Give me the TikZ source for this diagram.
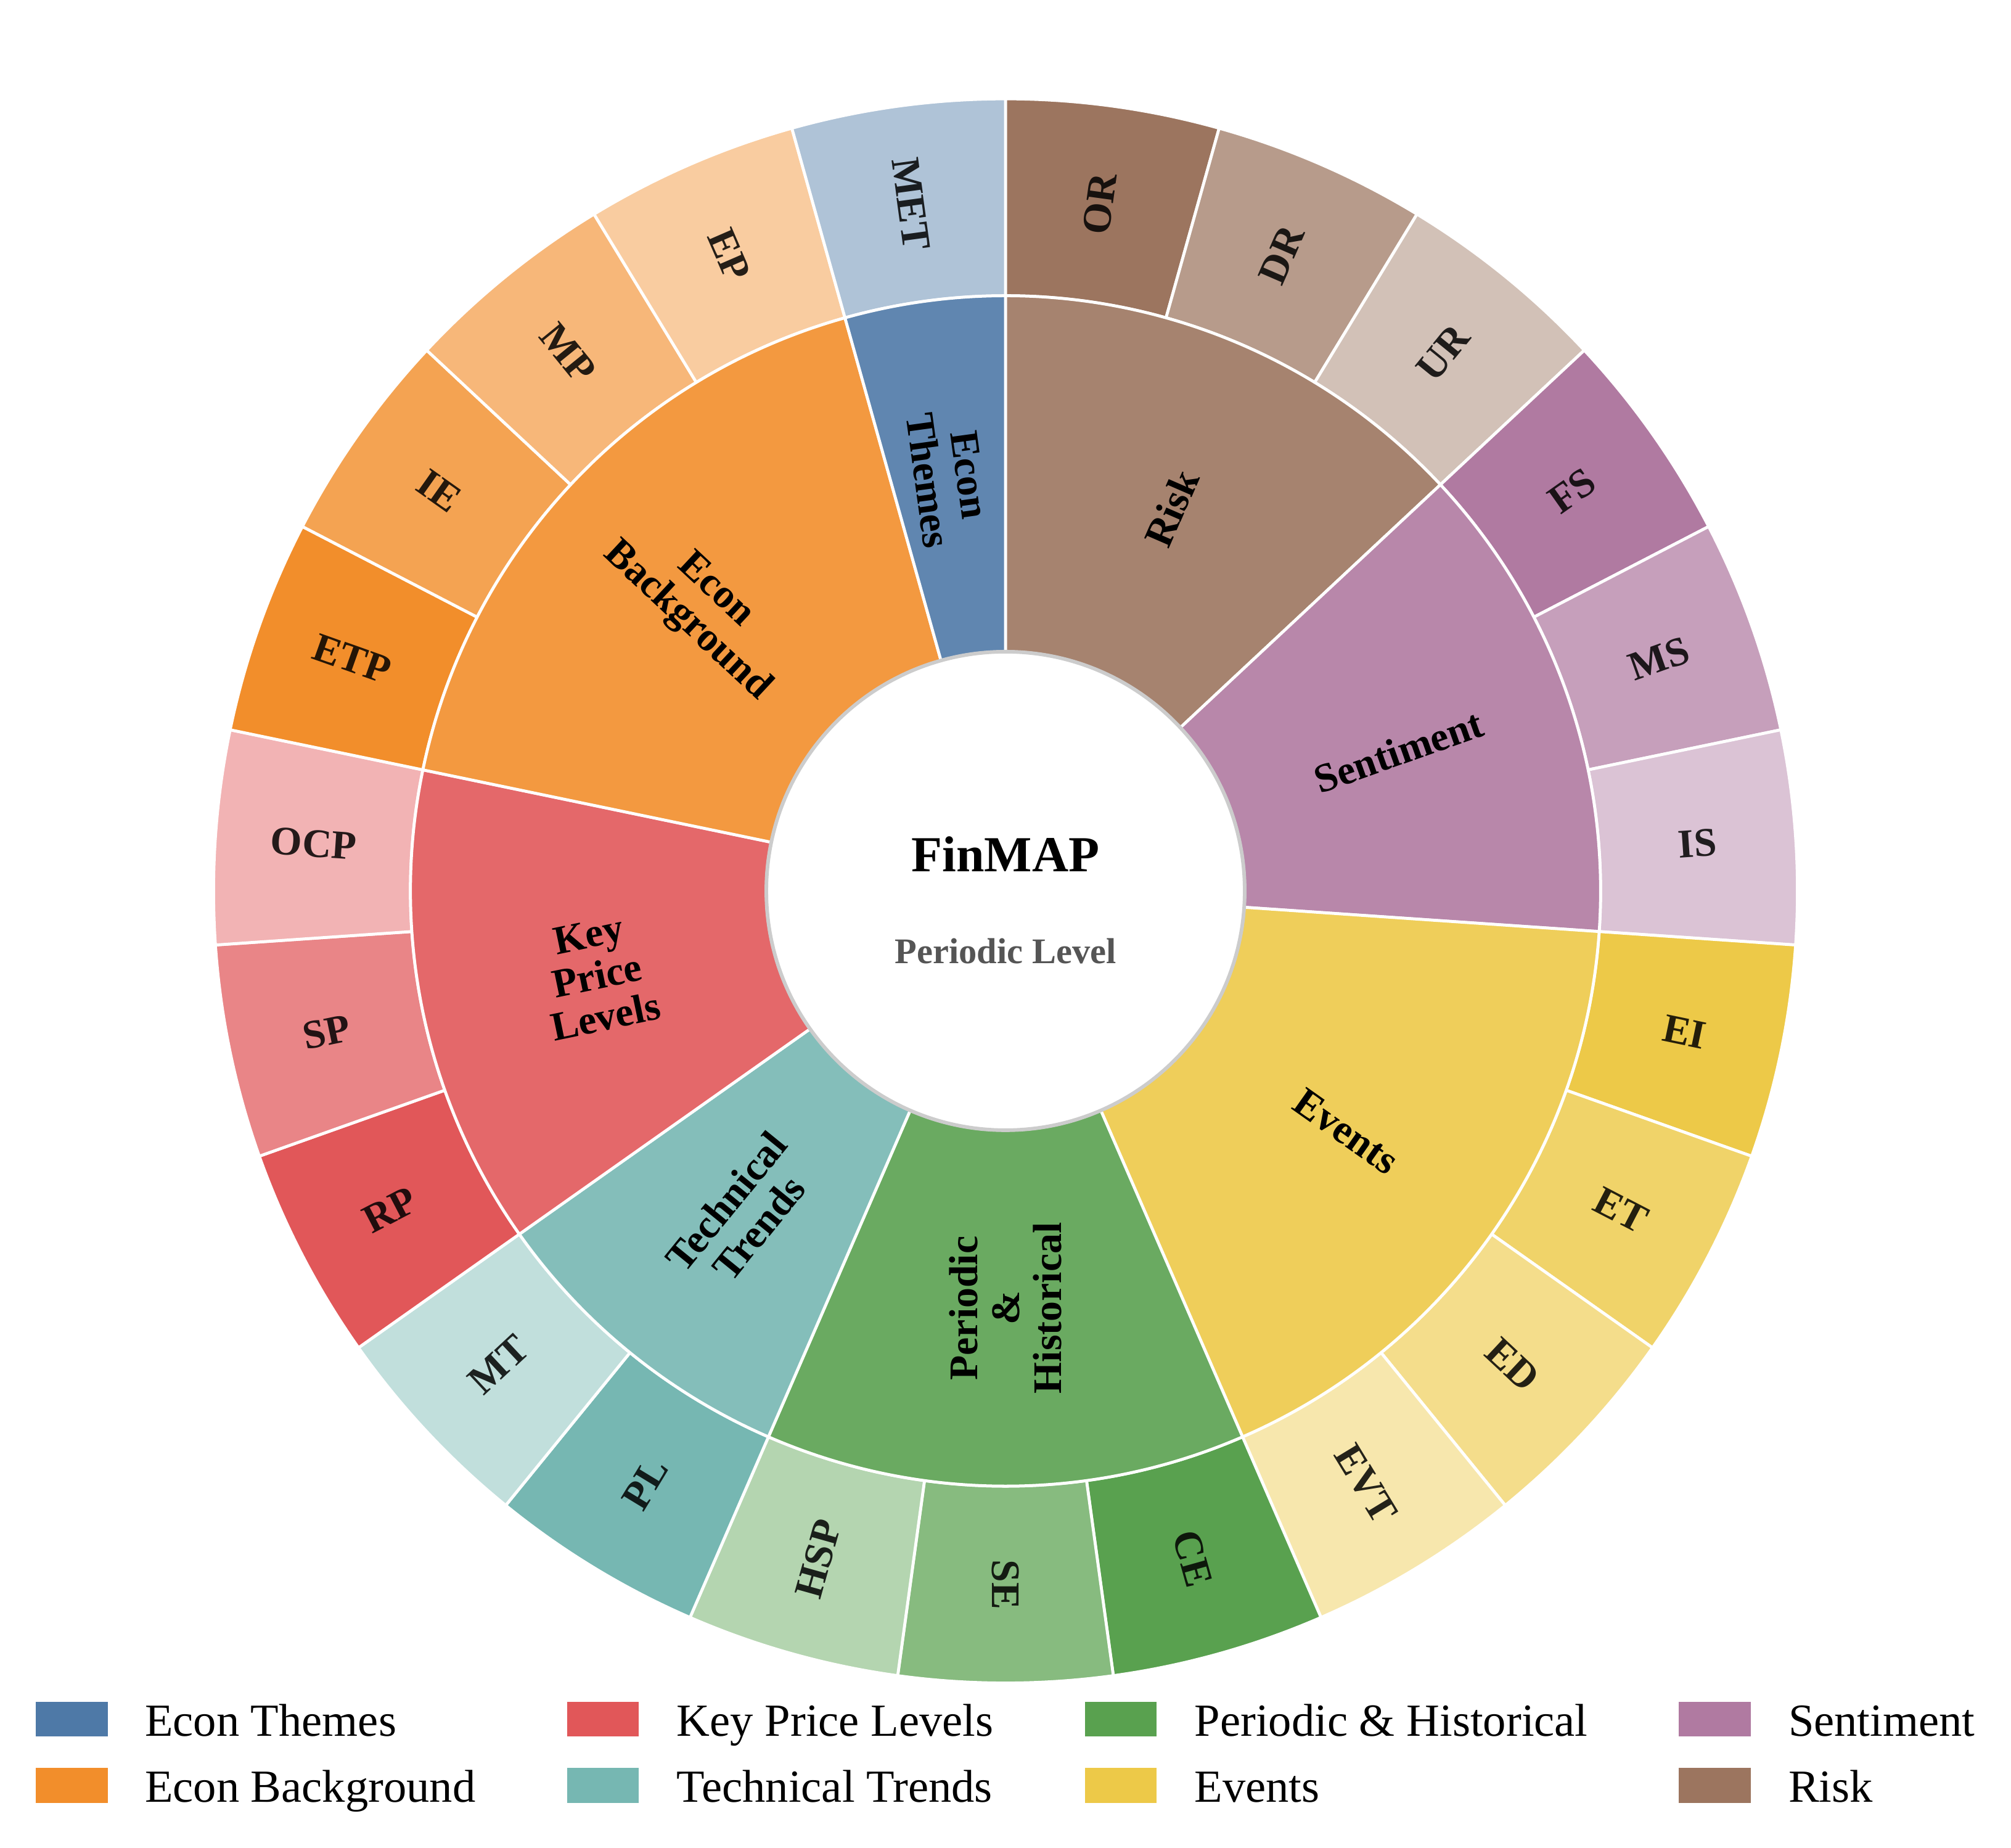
\documentclass[tikz,border=0pt]{standalone}
\usepackage{fontspec}
\setmainfont{Liberation Serif}
\definecolor{cET}{HTML}{4E79A7}
\definecolor{cEB}{HTML}{F28E2B}
\definecolor{cKP}{HTML}{E15759}
\definecolor{cTT}{HTML}{76B7B2}
\definecolor{cPH}{HTML}{59A14F}
\definecolor{cEV}{HTML}{EDC948}
\definecolor{cSE}{HTML}{B07AA1}
\definecolor{cRI}{HTML}{9C755F}
\definecolor{holegray}{HTML}{CCCCCC}
\definecolor{subgray}{HTML}{555555}
\tikzset{
  wedge/.style={draw=white, line width=0.65pt},
  outlbl/.style={inner sep=0pt, font=\bfseries\fontsize{9}{9.2}\selectfont, text=black, text opacity=0.85},
  inlbl/.style={inner sep=0pt, align=center, font=\bfseries\fontsize{9}{9.3}\selectfont, text=black},
  legbox/.style={minimum width=0.56cm, minimum height=0.27cm, inner sep=0pt, draw=none},
  legtxt/.style={anchor=base west, inner sep=0pt, font=\fontsize{10.2}{12}\selectfont}
}
\begin{document}
\begin{tikzpicture}
\useasboundingbox (0,0) rectangle (15.68,14.4013);
\begin{scope}[shift={(7.84,7.456)}]
% outer ring
\foreach \k/\c/\p/\t in {0/cRI/100/OR,1/cRI/72.5/DR,2/cRI/45/UR,
  3/cSE/100/FS,4/cSE/72.5/MS,5/cSE/45/IS,
  6/cEV/100/EI,7/cEV/81.7/ET,8/cEV/63.3/ED,9/cEV/45/EVT,
  10/cPH/100/CE,11/cPH/72.5/SE,12/cPH/45/HSP,
  13/cTT/100/PL,14/cTT/45/MT,
  15/cKP/100/RP,16/cKP/72.5/SP,17/cKP/45/OCP,
  18/cEB/100/ETP,19/cEB/81.7/IE,20/cEB/63.3/MP,21/cEB/45/EP,
  22/cET/45/MET}{
  \pgfmathsetmacro\aA{90-15.6521739*\k}
  \pgfmathsetmacro\aB{90-15.6521739*(\k+1)}
  \pgfmathsetmacro\aM{90-15.6521739*(\k+0.5)}
  \pgfmathsetmacro\rot{\aM>-90.5 ? \aM : \aM+180}
  \fill[wedge, fill={\c!\p!white}] (\aA:4.64) arc[start angle=\aA, end angle=\aB, radius=4.64]
     -- (\aB:6.175) arc[start angle=\aB, end angle=\aA, radius=6.175] -- cycle;
  \node[outlbl, rotate=\rot] (o\k) at (\aM:5.4075) {\t};
}
% inner ring
\foreach \s/\n/\c/\rot/\t in {0/3/cRI/66.52/{Risk},
  3/3/cSE/19.57/{Sentiment},
  6/4/cEV/-35.22/{Events},
  10/3/cPH/90/{Periodic\\\&\\Historical},
  13/2/cTT/50.87/{Technical\\Trends},
  15/3/cKP/11.74/{Key\\Price\\Levels},
  18/4/cEB/-43.04/{Econ\\Background},
  22/1/cET/-82.17/{Econ\\Themes}}{
  \pgfmathsetmacro\aA{90-15.6521739*\s}
  \pgfmathsetmacro\aB{90-15.6521739*(\s+\n)}
  \pgfmathsetmacro\aM{90-15.6521739*(\s+\n/2)}
  \fill[wedge, fill={\c!90!white}] (\aA:1.865) arc[start angle=\aA, end angle=\aB, radius=1.865]
     -- (\aB:4.64) arc[start angle=\aB, end angle=\aA, radius=4.64] -- cycle;
  \node[inlbl, rotate=\rot] (i\s) at (\aM:3.2525) {\t};
}
% centre hole
\draw[fill=white, draw=holegray, line width=0.8pt] (0,0) circle (1.865);
\node[anchor=base, inner sep=0pt, font=\bfseries\fontsize{11.2}{13}\selectfont] (title) at (0,0.151) {FinMAP};
\node[anchor=base, inner sep=0pt, text=subgray, font=\bfseries\fontsize{8}{10}\selectfont] (subtitle) at (0,-0.565) {Periodic Level};
\end{scope}
% legend
\node[legbox, fill=cET] (lb1) at (0.56,1.001) {};
\node[legtxt] (lt1) at (1.123,0.867) {Econ Themes};
\node[legbox, fill=cEB] (lb2) at (0.56,0.483) {};
\node[legtxt] (lt2) at (1.123,0.352) {Econ Background};
\node[legbox, fill=cKP] (lb3) at (4.70,1.001) {};
\node[legtxt] (lt3) at (5.27,0.867) {Key Price Levels};
\node[legbox, fill=cTT] (lb4) at (4.70,0.483) {};
\node[legtxt] (lt4) at (5.27,0.352) {Technical Trends};
\node[legbox, fill=cPH] (lb5) at (8.738,1.001) {};
\node[legtxt] (lt5) at (9.307,0.867) {Periodic \& Historical};
\node[legbox, fill=cEV] (lb6) at (8.738,0.483) {};
\node[legtxt] (lt6) at (9.307,0.352) {Events};
\node[legbox, fill=cSE] (lb7) at (13.37,1.001) {};
\node[legtxt] (lt7) at (13.938,0.867) {Sentiment};
\node[legbox, fill=cRI] (lb8) at (13.37,0.483) {};
\node[legtxt] (lt8) at (13.938,0.352) {Risk};
\end{tikzpicture}
\end{document}
